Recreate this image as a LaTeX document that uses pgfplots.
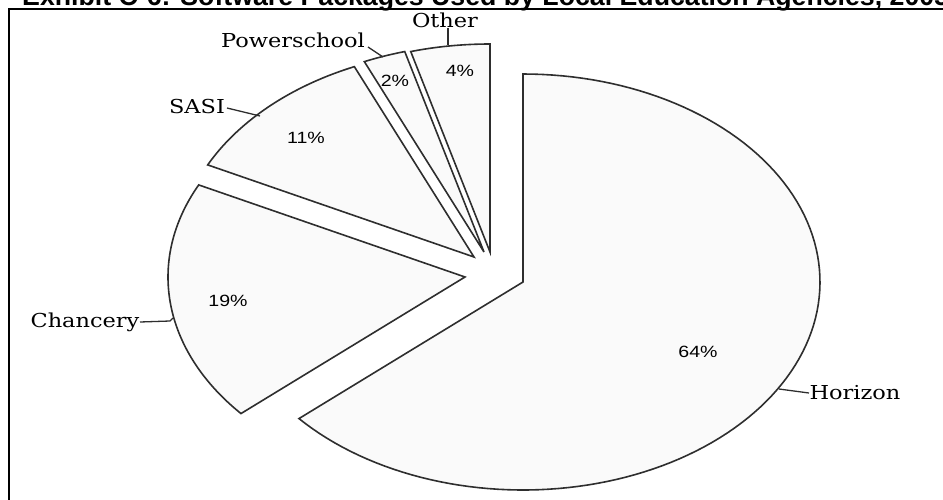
\documentclass[border=0pt]{standalone}
\usepackage{fontspec}
\usepackage{pgfplots}
\usepackage{pgfplotstable}
\pgfplotsset{compat=1.18}
\newfontfamily\labelfont[FakeStretch=1.17]{DejaVu Serif}
\newfontfamily\pctfont[FakeStretch=1.2]{Liberation Sans}
\newfontfamily\titlefont{Liberation Sans}
\definecolor{pieline}{HTML}{2E2E2E}
\definecolor{piefill}{HTML}{FAFAFA}

% slice values (%) and apex position (pixels) of each exploded slice
\pgfplotstableread{
name value cx cy
Horizon 63.6 523 282
Chancery 18.7 465 277
SASI 11.1 474 257
Powerschool 2.3 484 252
Other 4.3 490 252
}\piedata

\begin{document}
\begin{tikzpicture}
\begin{axis}[
  hide axis, scale only axis, width=943pt, height=499pt,
  xmin=0, xmax=943, ymin=0, ymax=499, y dir=reverse, clip=false,
]
\def\cum{0}
\pgfplotsforeachungrouped \i in {0,...,4}{
  \pgfplotstablegetelem{\i}{value}\of\piedata \let\val\pgfplotsretval
  \pgfplotstablegetelem{\i}{cx}\of\piedata \let\cx\pgfplotsretval
  \pgfplotstablegetelem{\i}{cy}\of\piedata \let\cy\pgfplotsretval
  \pgfmathsetmacro\hi{90-3.6*\cum}
  \pgfmathsetmacro\cum{\cum+\val}
  \pgfmathsetmacro\lo{90-3.6*\cum}
  \edef\temp{\noexpand\addplot[draw=pieline, fill=piefill, line width=1.6pt, line join=miter, domain=\lo:\hi, samples=120] ({\cx+297*cos(x)},{\cy-208*sin(x)}) -- (axis cs:\cx,\cy) -- cycle;}
  \temp
}
% leader lines
\draw[pieline, line width=1.3pt] (axis cs:448,45) -- (axis cs:448,28);
\draw[pieline, line width=1.3pt] (axis cs:368,47) -- (axis cs:383,57);
\draw[pieline, line width=1.3pt] (axis cs:227,108) -- (axis cs:260,116);
\draw[pieline, line width=1.3pt] (axis cs:140,322) -- (axis cs:170,321) -- (axis cs:173,318);
\draw[pieline, line width=1.3pt] (axis cs:779,389) -- (axis cs:809,393);
% category labels
\begin{scope}[every node/.style={inner sep=0pt, anchor=base, font=\labelfont\fontsize{19.2}{22}\selectfont}]
\node at (axis cs:445,27) {Other};
\node at (axis cs:293,47) {Powerschool};
\node at (axis cs:197,113) {SASI};
\node at (axis cs:85,327) {Chancery};
\node at (axis cs:855,399) {Horizon};
\end{scope}
% percent labels
\begin{scope}[every node/.style={inner sep=0pt, anchor=center, font=\pctfont\fontsize{16.3}{19}\selectfont}]
\node at (axis cs:698,352) {64\%};
\node at (axis cs:228,301) {19\%};
\node at (axis cs:306,138) {11\%};
\node at (axis cs:395,81) {2\%};
\node at (axis cs:460,71) {4\%};
\end{scope}
% frame and (cropped) title
\draw[black, line width=2pt] (axis cs:9,510) -- (axis cs:9,8.5) -- (axis cs:950,8.5);
\node[anchor=base west, inner sep=0pt, font=\titlefont\bfseries\fontsize{26.7}{30}\selectfont] at (axis cs:22,5) {Exhibit C-6: Software Packages Used by Local Education Agencies, 2005};
\end{axis}
\pgfresetboundingbox
\useasboundingbox (0,0) rectangle (943pt,499pt);
\end{tikzpicture}
\end{document}
